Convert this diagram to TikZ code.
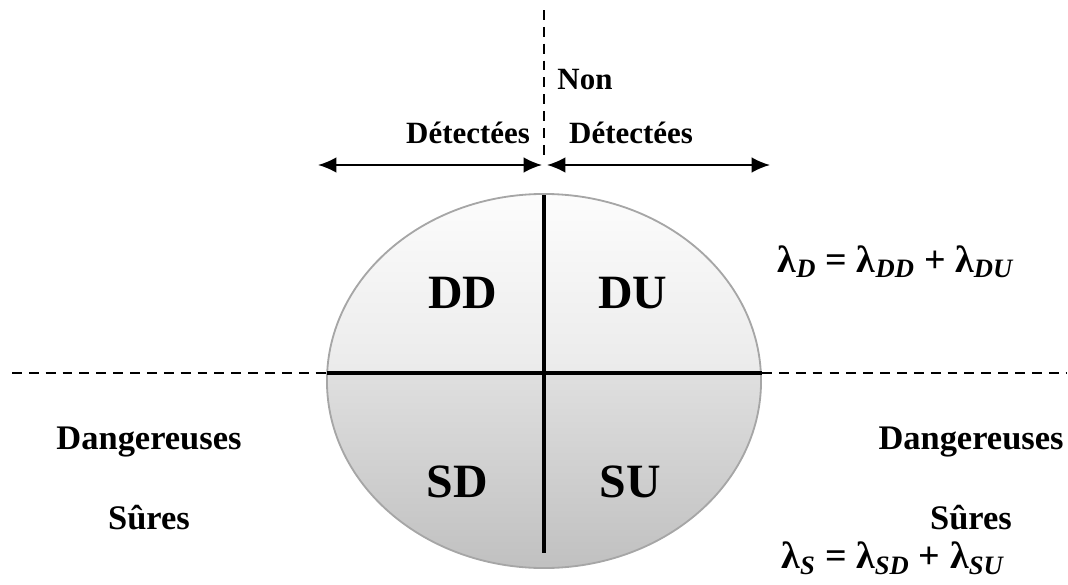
\documentclass[tikz,border=0pt]{standalone}
\usepackage{fontspec}
\setmainfont{Liberation Serif}
\usetikzlibrary{arrows.meta, positioning}

\newcommand{\lamsub}[1]{λ\textsubscript{\textit{#1}}}

\begin{document}
\begin{tikzpicture}[
    x=0.025cm, y=-0.025cm,
    lbl/.style={font=\fontsize{22}{26}\selectfont\bfseries, inner sep=0pt},
    sidelbl/.style={font=\fontsize{24.5}{28}\selectfont\bfseries, inner sep=0pt},
    zone/.style={font=\fontsize{34}{38}\selectfont\bfseries, inner sep=0pt},
    formula/.style={font=\fontsize{27}{31}\selectfont\bfseries, inner sep=0pt},
    sepline/.style={line width=1.5pt, dash pattern=on 7pt off 5pt},
    span/.style={line width=1.4pt, {Latex[length=13pt,width=11pt]}-{Latex[length=13pt,width=11pt]}},
    cross/.style={line width=2.8pt}
]
    \useasboundingbox (0,0) rectangle (1068,585);

    % Reference points
    \coordinate (dtop) at (544,10);
    \coordinate (dbot) at (544,155);
    \coordinate (hdl) at (12,373);
    \coordinate (hdr) at (1066,373);
    \coordinate (hleft) at (327,373);
    \coordinate (hright) at (762,373);
    \coordinate (vtop) at (544,195);
    \coordinate (vbot) at (544,553);
    \coordinate (aleft) at (318,165);
    \coordinate (amidl) at (542,165);
    \coordinate (amidr) at (547,165);
    \coordinate (aright) at (770,165);
    \coordinate (ctr) at (544,381);

    % Separators
    \draw[sepline] (dtop) -- (dbot);
    \draw[sepline] (hdl) -- (hleft);
    \draw[sepline] (hright) -- (hdr);

    % Ellipse, two shaded halves
    \begin{scope}
        \clip (ctr) ellipse [x radius=5.425cm, y radius=4.675cm];
        \fill[top color=gray!2, bottom color=gray!16] (320,190) rectangle (770,373);
        \fill[top color=gray!25, bottom color=gray!50] (320,373) rectangle (770,575);
    \end{scope}
    \draw[gray!70, line width=1.3pt] (ctr) ellipse [x radius=5.425cm, y radius=4.675cm];

    % Cross
    \draw[cross] (hleft) -- (hright);
    \draw[cross] (vtop) -- (vbot);

    % Arrows
    \draw[span] (aleft) -- (amidl);
    \draw[span] (amidr) -- (aright);

    % Top labels
    \node[lbl] (non) at (585,80) {Non};
    \node[lbl] (detl) at (468,133) {Détectées};
    \node[lbl] (detr) at (631,133) {Détectées};

    % Zones
    \node[zone] (dd) at (463,293) {DD};
    \node[zone] (du) at (633,293) {DU};
    \node[zone] (sd) at (457,482) {SD};
    \node[zone] (su) at (630,482) {SU};

    % Side labels
    \node[sidelbl] (dangl) at (149,442) {Dangereuses};
    \node[sidelbl] (surl) at (149,518) {Sûres};
    \node[sidelbl] (dangr) at (971,442) {Dangereuses};
    \node[sidelbl] (surr) at (971,518) {Sûres};

    % Rates
    \node[formula] (lamd) at (896,262) {\lamsub{D} = \lamsub{DD} + \lamsub{DU}};
    \node[formula] (lams) at (893,558) {\lamsub{S} = \lamsub{SD} + \lamsub{SU}};
\end{tikzpicture}
\end{document}
